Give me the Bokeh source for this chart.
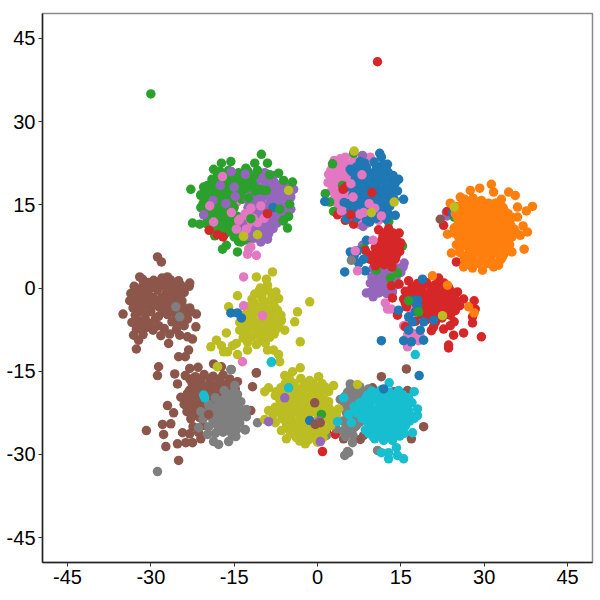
from bokeh.embed import file_html
from bokeh.models import FixedTicker, Range1d
from bokeh.plotting import figure
from bokeh.resources import INLINE

tick_values = [-45, -30, -15, 0, 15, 30, 45]
tick_labels = ["-45", "-30", "-15", "0", "15", "30", "45"]

pink = [(4.1,23.3),(9.5,23.6),(3,23),(5,23.6),(6.6,23.1),(2.7,22),(4.2,21.8),(5.8,22.2),(7.4,21.9),(2,20.5),(3.5,20.7),(5,20.3),(6.5,20.6),(1.9,19),(3.4,19.2),(4.9,18.8),(6.4,19.1),(2.5,17.5),(4,17.7),(5.5,17.3),(3,16),(4.5,16.2),(6,15.8),(7.5,16.1),(4,14.5),(5.5,14.7),(7,14.3),(8.6,14.6),(5.5,13),(7,13.2),(8.6,12.8),(10.2,13.1),(11.8,12.9),(7.4,11.5),(9,11.7),
(-17.1,20.1),(-19.6,15.3),(-15.5,13.5),(-14,12.8),(-18.7,12),(-10.8,12.2),(-11.7,13.7),(-14.4,11),(-13.3,9.2),(-12.4,10.1),(-13,12),(-12,11),(-11,10.5),(-12.2,15),(-14.5,15.5),(-13,17),
(12.2,-2.7),(12.6,-3.8),(13.3,-3.8),(16.2,-8.5),(17.6,-8.5),(18.5,-8.8),(18.2,-9.5),(16.2,-10.6),(16.4,-6.3),(16.9,-4),(17,-8.1),(17.4,-9),(15.5,-6.8)]
pink_rows = [(22.6,[3.4,5,6.8]),(21.2,[2.4,3.8,5.4,7]),(19.8,[2.6,4.2,5.8,7.2]),(18.2,[3,4.6,6]),(16.8,[3.2,4.8,6.3]),(15.3,[3.5,5,6.6,8]),(13.8,[4.8,6.2,7.8,9.4]),(12.2,[6.2,7.8,9.6,11])]

purple = [(-11,20.5),(-9.5,20.8),(-8,20.3),(-12.6,19),(-11,19.2),(-9.4,18.8),(-7.8,19.1),(-6.4,18.7),(-12,17.5),(-10.5,17.3),(-8.8,17.7),(-7.2,17.4),(-4.3,17.8),(-11.5,16),(-10,16.2),(-8.4,15.8),(-6.8,16.1),(-5.2,15.8),(-4.8,16.4),(-12.5,14.5),(-11,14.3),(-9.4,14.7),(-7.8,14.4),(-6.2,14.6),(-4.8,14.2),(-11,13),(-9.3,13.2),(-7.6,12.8),(-6,13.1),(-10.6,11.5),(-9,11.3),(-7.3,11.7),(-12,10),(-10.4,10.2),(-8.8,9.8),(-13.5,8.5),(-12,8.7),(-10.2,8.3),(-11.2,9.5),(-9,8.8),
(10,3.5),(11.5,3.7),(13,3.3),(14.4,3.6),(15.4,3.8),(15.6,4.5),(9.8,2),(11.3,2.2),(12.8,1.8),(14.2,2.1),(10,0.5),(11.5,0.7),(13,0.3),(14.2,0.6),(9.5,0.9),(9.5,-0.8),(11,-0.6),(12.5,-1),(13.5,-0.7),(8.8,-0.9),(11,-0.9),(12.2,-0.7),(10,-1.6),(12,5),(13.5,5.2),(10.5,5),(8.1,7.7),(6.3,5.9),(9,5.5),
(8.2,11.1),(8.1,23.9),(23.2,13.7),(23.3,13)]
purple_rows = [(19.9,[-10,-8.6]),(18.2,[-11.4,-9.6,-8,-6.5,-5.5]),(16.8,[-11,-9.3,-7.8,-6,-5]),(15.2,[-11.8,-10.2,-8.6,-7,-5.4]),(13.7,[-10.2,-8.6,-7,-5.3]),(12.2,[-10,-8.2,-6.5]),(10.7,[-11,-9.6,-8]),(9.2,[-11,-9.5]),(2.8,[10.6,12.2,13.6,15]),(1.2,[10.5,12,13.6]),(-0.2,[10.6,12.2,13.4])]

green = [(-22.8,17.8),(-10.1,24.1),(-11.3,22.5),(-9,22.5),(-15.6,22.8),(-17.3,22.5),(-18.7,21.4),(-12.9,21.6),(-22.5,11.7),(-21.2,11.5),(-5.4,10.8),(-17.1,7),(-16.4,7.7),(-14.4,6.5),(-12.4,8.6),(-21,16.7),(-19.8,18.5),(-4.5,19.1),(-7,20.7),(-6.1,19.4),(-5.2,12.9),(-6.1,12.2),(-9.2,17.6),(-10.5,17.8),
(-17.5,21),(-16,21.2),(-14.2,20.8),(-12.5,21),(-10.8,21.2),(-19,19.6),(-17.3,19.8),(-15.6,19.4),(-14,19.7),(-12.3,19.5),(-20.5,18.2),(-19,18),(-17.6,18.4),(-15.9,18.1),(-14.3,18.3),(-12.8,18),(-21,16.8),(-19.4,16.6),(-18,17),(-16.4,16.7),(-14.8,16.9),(-20.6,15.2),(-19.2,14.9),(-17.5,15.3),(-16,15),(-20.2,13.7),(-18.8,13.9),(-17.2,13.5),(-15.7,13.8),(-19.8,12.3),(-18,12.5),(-16.5,12.1),(-15,12.4),(-19.3,10.8),(-17.6,11),(-16,10.6),(-14.2,10.9),(-18.5,9.4),(-16.8,9.6),(-15,9.2),(-13.8,8.3),
(2.7,22.4),(6.5,24.3),(1.4,17),(2.9,13.8),(12.8,12),(2.2,15.5),(4.5,18.5),
(10.6,3.2),(14.4,2.7),(13.1,1.8),(15.3,7.6),(6.3,5.4),(8.4,7.2),(12.8,11.9),(24.6,12.8)]
green_rows = [(20.3,[-18,-16.6,-15,-13.2,-11.4]),(19,[-18.2,-16.4,-14.8,-13]),(17.5,[-20,-18.8,-17,-15.2,-13.5]),(16,[-20,-18.6,-17,-15.2,-13.6]),(14.5,[-21,-19.8,-18.2,-16.8,-15]),(13,[-19,-17.6,-16,-14.6]),(11.6,[-20,-18.6,-17.2,-15.6,-13.6]),(10,[-18,-16.4,-14.8,-13.2])]

red = [(10.8,40.8),(4.2,13.7),(3.6,13.2),(6.5,11.5),(5.1,18.2),(5,12.2),(22.7,11.3),(23.4,13.8),(25,4.7),
(11,10.5),(12.8,10.7),(11.8,9.4),(13.4,9.6),(14.7,9.9),(11.2,8),(12.6,8.2),(14,7.8),(15,8.1),(8.6,6.8),(10.6,6.6),(12,6.9),(13.4,6.4),(14.8,6.6),(9.4,5.2),(11,5.4),(12.6,5),(14,5.2),(10.4,4),(12,4.2),(13.4,3.8),
(13.3,0.4),(14.7,0.7),(16.4,1.3),(21.8,1.8),(13.5,-1.8),(14.4,-4.9),(15.8,-7),(20.5,-7.7),(22.7,-7.4),(24.5,-8.5),(26.3,-8.1),(29.5,-8.8),(23.6,-10.3),(23.6,-10.8),(28.2,-2.3),(28.4,-3.8),(27.9,-6.3),(27.9,-5.2),(26.3,-2),(25.2,-0.7),(20.9,-7),(24.6,-6.1),(23.9,-6.8),(23.9,-4.9),
(18,0.8),(19.6,1),(21.2,0.6),(22.8,0.9),(15.8,-0.6),(17.4,-0.4),(19,-0.8),(20.6,-0.5),(22.2,-0.7),(23.8,-0.4),(15.5,-2),(17,-2.2),(18.6,-1.8),(20.2,-2.1),(21.8,-1.9),(23.4,-2.2),(24.8,-2),(16,-3.4),(19,-3.2),(20.6,-3.6),(22.2,-3.3),(23.8,-3.5),(25.6,-3.2),(18.6,-4.8),(20.2,-4.6),(21.8,-5),(23.2,-4.7),(17.6,-6),(19.5,-5.8),(21.2,-6.2),
(1.6,-25.9),(3.2,-26.4),(0.9,-29.5)]
red_rows = [(9.9,[12,13.6]),(8.7,[11.6,13,14.2]),(7.3,[10.4,11.8,13.2,14.6]),(5.9,[9.6,11.2,12.8,14.2]),(4.6,[10.2,11.8,13.2]),(0.1,[17,18.8,20.4,22,23.6]),(-1.3,[16.6,18.2,19.8,21.4,23,24.4]),(-2.7,[15.8,17.6,19.4,21,22.6,24.2]),(-4.1,[18,19.8,21.4,23,24.8]),(-5.4,[19.4,21,22.4])]

blue = [(11.2,24.3),(11.5,23.6),(12.6,22.3),(14.6,19.6),(15.5,16),(13.8,16),(14,13.1),(1.3,15.6),(9.4,11.9),(7.7,22.8),(5.9,21.4),(8.5,22.5),(10.2,22.7),(11.8,22.3),(6.2,21),(7.8,21.2),(9.4,20.8),(11,21.1),(12.7,20.9),(6.8,19.6),(8.4,19.8),(10,19.4),(11.6,19.7),(13.2,19.5),(6,18.2),(7.6,18),(9.2,18.4),(10.8,18.1),(12.4,18.3),(13.6,18),(6.4,16.8),(8,17),(9.6,16.6),(11.2,16.9),(12.8,16.7),(4.8,15.4),(5.5,15.2),(7.4,15.6),(9,15.3),(10.6,15.5),(12.2,15.2),(6,14),(8.2,14.2),(10.2,13.8),(11.8,14.1),(5.2,12.5),(7,12.7),(8.8,12.3),(10.6,12.6),(12.4,12.4),
(4.9,2.9),(8.6,3.1),(8.8,8.6),(5.9,6.5),(7.2,6.7),(8.3,5.2),(7.4,4.5),(6.6,5.8),
(11.5,-9.5),(15.5,-9.5),(16.9,-9.7),(19.1,-9.4),(14.6,-4),(18.9,1.6),(24.3,13.5)]
blue_rows = [(21.8,[7,8.8,10.6,12.2]),(20.3,[6.8,8.6,10.2,11.8,13.6]),(18.9,[7.6,9.2,10.8,12.4,14]),(17.5,[6.8,8.4,10,11.6,13.2,14.4]),(16.1,[7.2,8.8,10.4,12,13.4]),(14.7,[6.6,8.2,9.8,11.4,13]),(13.3,[7,9,11,12.8])]

brown = [(-28.8,5.6),(-28.1,4.7),(-35,-4.7),(-32.6,-11),(-26.8,-10),(-23.2,-11.2),(-32.2,-9.4),(-33.1,-8.5),(-22.5,-9.2),(-23.4,-8.8),(-21.9,-7),(-21.8,-4.7),(-23,0.9),(-23.1,0.3),(-32,2),(-27,2),(-25,1.3),
(-31.5,1.6),(-29.5,1.4),(-28,1.8),(-26.5,1.5),(-33,0.3),(-31.4,0.5),(-29.8,0.1),(-27.8,0.4),(-26,0.2),(-24.6,0.5),(-33.6,-1),(-32,-0.8),(-30.4,-1.2),(-27.2,-0.9),(-25.6,-1.1),(-24,-0.8),(-33.8,-2.3),(-32.2,-2.1),(-30.6,-2.5),(-29,-2.2),(-27.4,-2.4),(-25.8,-2.1),(-24.4,-2.3),(-33.2,-3.6),(-31.6,-3.4),(-30,-3.8),(-28.4,-3.5),(-26.8,-3.7),(-25,-3.4),(-23,-3.6),(-32.8,-4.9),(-31,-4.7),(-28.6,-5.1),(-27,-4.8),(-25.4,-5),(-23.6,-4.7),(-33.4,-6.2),(-31.8,-6),(-30.2,-6.4),(-26.2,-6.1),(-24.4,-6.3),(-32.6,-7.4),(-31,-7.2),(-29.6,-7.6),(-27.6,-7.3),(-25.4,-7.5),(-31.4,-8.4),(-28.2,-8.6),(-26.6,-8.3),(-24.8,-8.5),
(-25,-12.4),(-23.8,-12.4),(-28.6,-14.2),(-28.8,-15.8),(-27,-21.2),(-25.9,-22.5),(-30.8,-25.7),(-27.3,-28.6),(-25,-31.1),(-27.7,-26.4),(-27.9,-24.6),(-26.4,-24.5),(-25.2,-28.1),(-23.7,-27.9),(-22.5,-27.9),(-21,-27.2),(-24.3,-26.1),(-11,-15.3),(-11.7,-17.8),(-18.7,-13.7),(-17.3,-14.2),(-25.7,-15.5),(-25.2,-17.3),(-12,-22.1),
(-23,-14.5),(-21.5,-14.3),(-23.8,-15.8),(-22,-16),(-20.4,-15.6),(-18.8,-15.9),(-17,-15.7),(-22.6,-17.1),(-21,-16.9),(-19.4,-17.3),(-17.8,-17),(-16.2,-17.2),(-14.4,-16.9),(-23,-18.4),(-21.4,-18.2),(-19.8,-18.6),(-18.2,-18.3),(-16.6,-18.5),(-14.8,-18.2),(-24.6,-19.7),(-23,-19.5),(-21.4,-19.9),(-19.8,-19.6),(-18.2,-19.8),(-16.4,-19.5),(-24,-21),(-22.4,-20.8),(-20.8,-21.2),(-19,-20.9),(-23.5,-22.3),(-21.8,-22.1),(-20.2,-22.5),(-22.8,-23.6),(-21.2,-23.4),(-22.4,-25),(-20.6,-24.8),(-23,-26.3),(-21.4,-26.1),
(11.5,-16),(16,-14.6),(13.7,-18.7),(16.2,-18.5),(19.1,-25),(16.9,-27.2),(7.7,-27.3),(8.3,-26.6),(9,-25.5),(6.8,-22.8),(9.9,-18),(4.7,-27.2),(22.1,12.4)]
brown_rows = [(1,[-30.5,-28.8,-27,-25.5]),(-0.4,[-32.2,-30.6,-28.8,-26.8,-25.2]),(-1.7,[-33,-31.2,-29.6,-28,-26.4,-24.8]),(-3,[-32.8,-31,-29.4,-27.8,-26,-24.4]),(-4.3,[-32,-30,-27.8,-26,-24.2,-22.8]),(-5.6,[-32.6,-31,-29.2,-25.4,-23.4]),(-6.8,[-32,-30.6,-28.6,-25.2,-24]),(-16.4,[-23,-21.2,-19.4,-17.6,-15.8]),(-17.7,[-21.8,-20.2,-18.6,-17,-15.4]),(-19,[-23.4,-22,-20.4,-18.8,-17,-15.4]),(-20.4,[-23.2,-21.6,-20,-18]),(-21.7,[-22.8,-21,-19.6]),(-23,[-22.4])]

gray = [(-25.5,-3.4),(-24.8,-5.2),(-13.8,-20.5),(-14.9,-17.6),(-15.6,-14.7),(-12.8,-21.9),(-12.8,-23.2),(-10.8,-24.3),(-13.1,-25.5),(-28.8,-33.1),(-17.8,-28.2),(-18.7,-27.7),(-16,-27.7),(-14.7,-26.8),(-19.8,-26.4),(-21.4,-25.2),
(-16.8,-18.5),(-15,-18.7),(-18.4,-19.8),(-16.8,-20),(-15.2,-19.6),(-19.6,-21),(-18,-21.2),(-16.4,-20.8),(-14.8,-21.1),(-21,-22.3),(-19.4,-22.1),(-17.8,-22.5),(-16.2,-22.2),(-14.6,-22.4),(-20.6,-23.6),(-19,-23.4),(-17.4,-23.8),(-15.8,-23.5),(-14.2,-23.7),(-19.6,-25),(-18,-24.8),(-16.4,-25.2),(-15,-24.9),(-18.4,-26.2),(-17,-26),(-15.4,-26.4),
(6.1,5),(5.9,-17.3),(4.1,-20.1),(1.6,-26.6),(3.4,-25.4),(6.3,-27.9),(5.4,-29.5),(4.9,-30.2),(5.6,-29.7),(10.8,-29.3),(6,-18),(7.6,-17.8),(9.2,-18.2),(5,-19.5),(6.6,-19.3),(8.2,-19.7),(4.9,-21),(6.4,-20.8),(7.6,-21.2),(5.2,-22.5),(6.8,-22.3),(4.6,-24),(6,-23.8),(7.6,-24.2),(5,-25.4),(6.6,-25.2),(5,-26.8),(6.4,-26.6)]
gray_rows = [(-19.2,[-16,-14.4]),(-20.4,[-17.6,-16,-14.4]),(-21.7,[-19,-17.4,-15.6,-14]),(-23,[-20,-18.2,-16.6,-15,-13.6]),(-24.3,[-18.8,-17.2,-15.6,-14]),(-25.6,[-17.6,-16,-14.6,-13]),(-18.8,[5.4,7.2,8.6]),(-20.2,[5.6,7,8.4]),(-21.8,[5.6,6.8]),(-23.2,[5.6,7]),(-24.8,[5.4,7]),(-26,[4.8,5.8])]

olive = [(-8.1,2.9),(-11,2),(-9.2,1.6),(-9,0.5),(-10.3,0),(-14.4,-1.4),(-11.3,-1.1),(-1.4,-2.5),(-3.6,-4.3),(-4.1,-6.1),(-5.9,-7.6),(-3.1,-9.7),(-16.4,-8.1),(-16,-3.4),(-19.2,-10.6),(-18.2,-9.4),(-17.3,-10.4),(-16.9,-11.5),(-16.2,-11.5),(-18,-14.2),(-14.4,-12),(-12.6,-11.2),(-9,-11.2),(-7.9,-11.2),(-7,-12),(-6.8,-13.3),(-15.3,-10.4),(-6.5,-5.8),
(-10.5,-0.5),(-9,-0.3),(-7.5,-0.7),(-11.8,-2),(-10,-1.8),(-8.4,-2.2),(-7,-1.9),(-12.6,-3.4),(-11,-3.2),(-9.4,-3.6),(-7.8,-3.3),(-13,-4.8),(-11.4,-4.6),(-9.8,-5),(-8.2,-4.7),(-6.6,-4.9),(-14,-6.2),(-12.4,-6),(-10.8,-6.4),(-9.2,-6.1),(-7.6,-6.3),(-6.6,-6),(-14,-7.6),(-12.4,-7.4),(-10.8,-7.8),(-9.2,-7.5),(-7.6,-7.7),(-13.4,-9),(-11.8,-8.8),(-10.2,-9.2),(-8.6,-8.9),(-14.6,-10),(-12.6,-9.8),(-11,-10.2),(-9.4,-9.9),
(-3.1,-14.4),(-4.5,-15.1),(-5.9,-15.8),(-8.8,-18),(-9.5,-18.7),(-8.8,-22.1),(-9.5,-23.7),(-6.5,-25.7),(-5.6,-27.2),(-2.2,-28.1),(2.9,-17.6),(2,-20.5),(3.8,-21.8),(7.2,-17.4),(0.2,-16),
(-5,-16.5),(-3,-16.3),(-1.4,-16.7),(-6.6,-18),(-5,-17.8),(-3.4,-18.2),(-1.8,-17.9),(-0.2,-18.1),(1.3,-17.8),(-7.6,-19.4),(-6,-19.2),(-4.4,-19.6),(-2.8,-19.3),(-1.2,-19.5),(0.4,-19.2),(-6.6,-20.8),(-5,-20.6),(-3.4,-21),(-1.8,-20.7),(-0.2,-20.9),(1.4,-20.6),(-7,-22.2),(-5.4,-22),(-3.8,-22.4),(-2.2,-22.1),(-0.6,-22.3),(1,-22),(2.6,-22.2),(-6.4,-23.6),(-4.8,-23.4),(-3.2,-23.8),(-1.6,-23.5),(0,-23.7),(1.6,-23.4),(3.2,-23.6),(-5.6,-25),(-4,-24.8),(-2.4,-25.2),(-0.8,-24.9),(0.8,-25.1),(2.4,-24.8),(-4.2,-26.4),(-2.6,-26.2),(-1,-26.6),(0.6,-26.3),(-3.2,-27.6),(-1.6,-27.4),(0,-27.8)]
olive_rows = [(-1.2,[-10,-8.2]),(-2.7,[-11.4,-9.6,-8]),(-4,[-12,-10.4,-8.8,-7.2]),(-5.5,[-13,-11.6,-10,-8.4,-6.8]),(-6.9,[-13.2,-11.6,-10,-8.4,-7]),(-8.3,[-12.6,-11,-9.4,-7.8]),(-17.2,[-5.8,-4.2,-2.4,-0.8,0.8]),(-18.7,[-7.4,-5.8,-4.2,-2.6,-1,0.6,2]),(-20.1,[-6.8,-5.2,-3.6,-2,-0.4,1.2]),(-21.5,[-7.6,-6,-4.4,-2.8,-1.2,0.4,2]),(-22.9,[-8,-6.4,-4.8,-3.2,-1.6,0.2,1.8,3.4]),(-24.3,[-7.6,-5.6,-4,-2.4,-0.8,0.8,2.4]),(-25.7,[-5,-3.4,-1.8,-0.2,1.4]),(-27,[-3.8,-2,-0.4,1])]

cyan = [(4.7,-19.8),(3.6,-24.1),(6.1,-24.3),(12.9,-17.1),(17.4,-18.7),(18,-21.8),(18,-23),(17.1,-26.1),(10.3,-27.2),(11.5,-29.7),(12.8,-30.8),(14.2,-28.8),(15.5,-30.8),(14.4,-30.2),(12.8,-29.7),(11.9,-27.5),(13.5,-27.5),(17.6,-12),
(9.8,-18.6),(11.4,-18.4),(13,-18.8),(14.6,-18.5),(8.6,-20),(10.2,-19.8),(11.8,-20.2),(13.4,-19.9),(15,-20.1),(16.4,-19.8),(6.6,-21.4),(8,-21.2),(9.6,-21.6),(11.2,-21.3),(12.8,-21.5),(14.4,-21.2),(16,-21.4),(5.6,-22.8),(7.2,-22.6),(8.8,-23),(10.4,-22.7),(12,-22.9),(13.6,-22.6),(15.2,-22.8),(16.8,-23),(9,-24.2),(10.6,-24),(12.2,-24.4),(13.8,-24.1),(15.4,-24.3),(16.6,-24),(8.6,-25.6),(10.2,-25.4),(11.8,-25.8),(13.4,-25.5),(15,-25.7),(10,-26.8),(11.6,-26.6),(13.2,-27),(14.8,-26.7)]
cyan_rows = [(-19.3,[9,10.6,12.2,13.8,15.4]),(-20.7,[7.6,9.4,11,12.6,14.2,15.8,17]),(-22.1,[6.8,8.4,10,11.6,13.2,14.8,16.4]),(-23.5,[8,9.8,11.4,13,14.6,16.2,17.4]),(-24.9,[9.4,11,12.6,14.2,15.8]),(-26.2,[9.2,10.8,12.4,14,15.6])]

orange = [(31.3,18.7),(29.2,18),(27.5,17.6),(31.7,17.3),(34.4,17.3),(35.6,16.7),(38.7,14.7),(37.6,13.9),(36,14.6),(33.1,16),(32,15.3),(23.4,9.7),(24.6,10.8),(37.2,7),(36,12.8),(37,11.2),(37.8,10.1),(36.5,9.5),(35,6.5),(24.1,6.3),(26.3,3.8),(27.9,3.6),(29.7,3.2),(31.7,3.8),(32.6,4.1),(33.3,5.6),(23.9,15.3),(25.7,16.4),
(26.5,16),(28,16.2),(29.5,15.8),(25,14.7),(26.5,14.5),(28,14.9),(29.6,14.6),(31.2,14.8),(33.4,14.5),(24.8,13.4),(26.4,13.2),(28,13.6),(29.6,13.3),(31.2,13.5),(32.8,13.2),(34.3,13.4),(26,12),(27.6,11.8),(29.2,12.2),(30.8,11.9),(32.4,12.1),(34,11.8),(26,10.6),(27.6,10.4),(29.2,10.8),(30.8,10.5),(32.4,10.7),(34,10.4),(35.4,10.6),(25.4,9.2),(27,9),(28.6,9.4),(30.2,9.1),(31.8,9.3),(33.4,9),(35,9.2),(25,7.8),(26.6,7.6),(28.2,8),(29.8,7.7),(31.4,7.9),(33,7.6),(34.6,7.8),(25.6,6.4),(27.2,6.2),(28.8,6.6),(30.4,6.3),(32,6.5),(33.6,6.2),(26.5,5),(28,4.8),(29.6,5.2),(31.2,4.9),(33,5.1),
(20.7,2.2),(23.4,0.5),(27.2,-3.4),(28.2,-4.5)]
orange_rows = [(15.3,[26.2,27.8,29.2,30.8,32.4]),(14,[25.6,27.2,28.8,30.4,32,33.6]),(12.7,[25.2,27,28.6,30.2,31.8,33.4,35]),(11.3,[25.2,26.8,28.4,30,31.6,33.2,34.8]),(9.9,[24.6,26.2,27.8,29.4,31,32.6,34.2,35.8]),(8.5,[26.2,27.8,29.4,31,32.6,34.2]),(7.1,[25.6,27.4,29,30.6,32.2,33.8]),(5.7,[26.4,28,29.6,31.2,32.8]),(4.4,[27,29,30.6,32.2])]

top_purple_mix = [(-15.5,21),(-17.5,18.5),(-14.8,16.5),(-16.5,15.2),(-18.8,15.8),(-20.5,13.2),(-15,18.2),(-13,20.5),(-12.5,15.8),(-13.5,11.4),(-12.6,9.3),(-11.4,9)]
top_pink = [(-13.3,2),(-13.3,-3.2),(-9.9,-5),(-13.5,-13.3),(6.8,6.7),(7.2,3.1),(10,8.6),(8.3,13.6),(10.3,14.4),(-12.4,7),(-12,7.4),(-12.6,6.1),(-11,5.9),(-14.2,12.2),(-17.1,20.1),
(-15.5,13.6),(-14,12.4),(-13,13.4),(-12.8,10.6),(-11.6,12.6),(-10.8,11.8),(-12,14.4),(-14.6,10.6),(-13.3,9.6),(-18.7,11.9),(-19.4,14.8),(-9.6,12.6),(-10.2,14.8),
(7.6,13.3),(9.3,15.2),(11.5,13),(4.3,13.9),(6.4,16.4),(6,18.8),(8,20.4)]
top_blue = [(-15.6,-4.5),(-14.4,-4.5),(-13.7,-5.4),(18,-2.2),(18,-3.2),(17.3,-2.2),(17.6,-4.3),(16.4,-5.2),(17.1,-6.1),(19.1,-6.1),(16.4,-7.6),(18.5,-7.6),(20.9,-5.8),(-1.4,-23.9),(18.3,-15.8),(11.9,-18.2),(-8,14.5)]
top_green = [(-30,35),(16.4,-2.3),(18.2,-4.3),(0.7,-22.8),(-11.2,17.5),(-9.8,17.6),(-8.6,20.4),(-6.2,12.1),(-6.8,14.2),(-5,15.1),(-12.4,16.2),(-12,12.5),(-11.7,18.8),(-14.2,8.4)]
top_red = [(-19.5,10.4),(-18,9.6),(-17,9.2),(-9,13.4),(4.6,17.8),(9.8,17.2),(6,13.2)]
top_olive = [(6.6,24.7),(9.7,13.6),(13.8,15.5),(24.6,14.6),(22.5,-5),(-18,-14.2),(-5.2,17.6),(-13.3,9.3),(-10.8,9.6)]
top_cyan = [(-8.3,-13.3),(-20.5,-19.3),(-20.3,-19.8),(-5.2,-18),(-8.3,-13.4)]
top_gray = [(-15.5,-14.7)]
top_purple = [(-5.9,-19.8),(-8.8,-24.1),(0.5,-27.7),(0.3,-24)]
top_brown = [(-19.6,-22.8),(-0.5,-20.7),(-0.4,-24.6),(0.5,-24.3),(-11,-15.3)]


def merged(points, rows):
    return points + [(x, y) for y, xs in rows for x in xs]


layers = [
    (merged(pink, pink_rows), "#e377c2"), (merged(purple, purple_rows), "#9467bd"),
    (merged(green, green_rows), "#2ca02c"), (merged(red, red_rows), "#d62728"),
    (merged(blue, blue_rows), "#1f77b4"), (merged(brown, brown_rows), "#8c564b"),
    (merged(gray, gray_rows), "#7f7f7f"), (merged(olive, olive_rows), "#bcbd22"),
    (merged(cyan, cyan_rows), "#17becf"), (merged(orange, orange_rows), "#ff7f0e"),
    (top_purple_mix, "#9467bd"), (top_pink, "#e377c2"), (top_blue, "#1f77b4"),
    (top_green, "#2ca02c"), (top_red, "#d62728"), (top_olive, "#bcbd22"),
    (top_cyan, "#17becf"), (top_gray, "#7f7f7f"), (top_purple, "#9467bd"),
    (top_brown, "#8c564b"),
]

p = figure(
    width=596, height=596, output_backend="svg", toolbar_location=None,
    x_range=Range1d(-49.5, 49.5), y_range=Range1d(-49.5, 49.5),
    min_border_left=42, min_border_top=13, min_border_right=4, min_border_bottom=34,
    frame_width=550, frame_height=549,
)
for pts, colour in layers:
    p.scatter([a for a, _ in pts], [b for _, b in pts], size=9.5, fill_color=colour, line_color=None)

p.grid.visible = False
p.outline_line_color = "#8a8a8a"
p.outline_line_width = 1.5
for ax in (p.xaxis[0], p.yaxis[0]):
    ax.ticker = FixedTicker(ticks=tick_values)
    ax.major_label_overrides = dict(zip(tick_values, tick_labels))
    ax.axis_line_color = "#222222"
    ax.axis_line_width = 1.5
    ax.major_tick_line_color = "#333333"
    ax.major_tick_out = 4
    ax.major_tick_in = 0
    ax.minor_tick_line_color = None
    ax.major_label_text_font = "Liberation Sans"
    ax.major_label_text_font_size = "20px"
    ax.major_label_text_color = "#000000"
    ax.major_label_standoff = 3
p.yaxis[0].major_label_orientation = "horizontal"

open("out.html", "w").write(file_html(p, INLINE))
